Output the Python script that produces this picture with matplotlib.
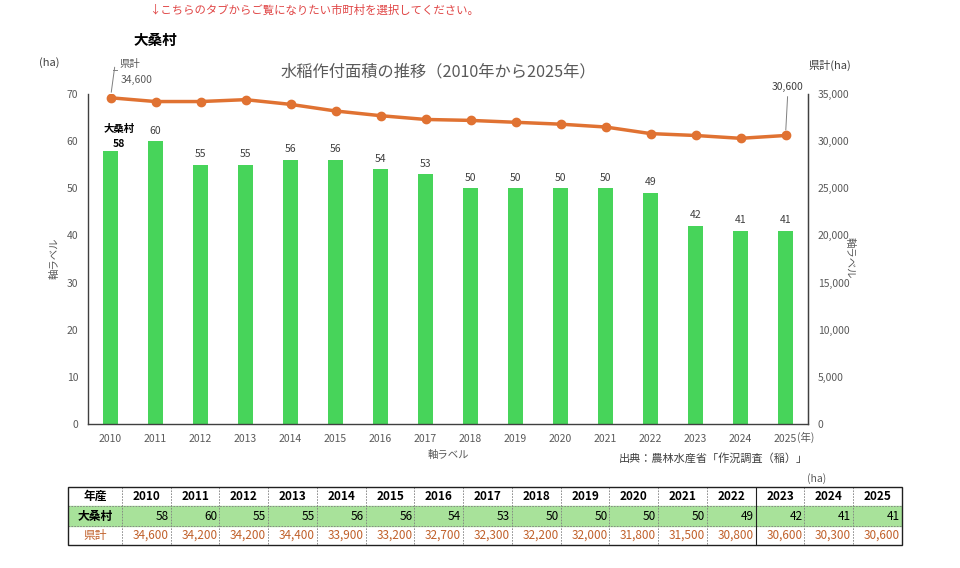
import matplotlib
matplotlib.use("Agg")
import matplotlib.pyplot as plt
from matplotlib.lines import Line2D
from matplotlib.patches import Rectangle
from matplotlib.ticker import FuncFormatter, MultipleLocator

plt.rcParams['font.family'] = ['Noto Sans CJK JP', 'DejaVu Sans']

years = [2010, 2011, 2012, 2013, 2014, 2015, 2016, 2017,
         2018, 2019, 2020, 2021, 2022, 2023, 2024, 2025]
village = [58, 60, 55, 55, 56, 56, 54, 53, 50, 50, 50, 50, 49, 42, 41, 41]
county = [34600, 34200, 34200, 34400, 33900, 33200, 32700, 32300,
          32200, 32000, 31800, 31500, 30800, 30600, 30300, 30600]
village_name = "大桑村"
county_name = "県計"

W, H = 960, 568
fig = plt.figure(figsize=(W / 100, H / 100), dpi=100)


def fx(x):
    return x / W


def fy(y):
    return 1 - y / H


GRAY = "#595959"
BAR = "#47D45A"
LINE = "#E07232"

# ---------------- main chart ----------------
ax = fig.add_axes([fx(88), fy(424), fx(808) - fx(88), fy(94) - fy(424)])
x = list(range(len(years)))
ax.bar(x, village, width=0.33, color=BAR, zorder=2)
ax.set_xlim(-0.5, len(years) - 0.5)
ax.set_ylim(0, 70)
ax.yaxis.set_major_locator(MultipleLocator(10))
ax.set_xticks(x)
ax.set_xticklabels([str(y) for y in years])
ax.tick_params(length=0, labelsize=7.5, labelcolor=GRAY, pad=7)
ax.tick_params(axis='y', pad=7)
ax.spines['top'].set_visible(False)
for s in ['left', 'bottom', 'right']:
    ax.spines[s].set_color("#404040")
    ax.spines[s].set_linewidth(1.0)

for i, v in enumerate(village):
    if i == 0:
        ax.annotate(str(v), (i, v), xytext=(6, 1), textcoords='offset points',
                    ha='center', va='bottom', fontsize=7.5, fontweight='bold',
                    color='black')
        ax.annotate(village_name, (i, v), xytext=(6, 12), textcoords='offset points',
                    ha='center', va='bottom', fontsize=7.5, fontweight='bold',
                    color='black')
    else:
        ax.annotate(str(v), (i, v), xytext=(0, 4), textcoords='offset points',
                    ha='center', va='bottom', fontsize=7.5, color="#404040")

ax2 = ax.twinx()
ax2.set_ylim(0, 35000)
ax2.yaxis.set_major_locator(MultipleLocator(5000))
ax2.yaxis.set_major_formatter(FuncFormatter(lambda v, p: f"{int(v):,}"))
ax2.tick_params(length=0, labelsize=7.5, labelcolor=GRAY, pad=7)
for s in ['top', 'left', 'bottom']:
    ax2.spines[s].set_visible(False)
ax2.spines['right'].set_color("#404040")
ax2.plot(x, county, color=LINE, lw=2.5, marker='o', ms=6, zorder=3)

# annotations for first / last points
ax2.annotate("", xy=(0, county[0]), xytext=(3, 22), textcoords='offset points',
             arrowprops=dict(arrowstyle='-', color='#7f7f7f', lw=0.7,
                             shrinkA=0, shrinkB=4))
fig.add_artist(Line2D([fx(113), fx(117)], [fy(69.5), fy(69.5)], color='#7f7f7f', lw=0.7))
fig.text(fx(130), fy(64), county_name, fontsize=7.5, color=GRAY, ha='center', va='center')
fig.text(fx(137), fy(80), f"{county[0]:,}", fontsize=7.5, color=GRAY, ha='center', va='center')

ax2.annotate("", xy=(len(years) - 1, county[-1]), xytext=(1.5, 28), textcoords='offset points',
             arrowprops=dict(arrowstyle='-', color='#7f7f7f', lw=0.7,
                             shrinkA=0, shrinkB=4))
fig.text(fx(788), fy(87), f"{county[-1]:,}", fontsize=7.5, color="#404040",
         ha='center', va='center')

# texts
fig.text(fx(314), fy(10), "↓こちらのタブからご覧になりたい市町村を選択してください。",
         fontsize=8.2, color="#E04545", ha='center', va='center',
         family=['Noto Sans CJK JP', 'DejaVu Sans'])
fig.text(fx(155), fy(40), village_name, fontsize=10.5, fontweight='bold',
         ha='center', va='center')
fig.text(fx(49), fy(63), "(ha)", fontsize=8, color="#404040", ha='center', va='center')
fig.text(fx(438), fy(72), "水稲作付面積の推移（2010年から2025年）", fontsize=11.7,
         color=GRAY, ha='center', va='center')
fig.text(fx(830), fy(65), "県計(ha)", fontsize=8, color="#404040", ha='center', va='center')
fig.text(fx(55), fy(258), "軸ラベル", fontsize=7.5, color=GRAY, rotation=90,
         ha='center', va='center')
fig.text(fx(850), fy(258), "軸ラベル", fontsize=7.5, color=GRAY, rotation=270,
         ha='center', va='center')
fig.text(fx(448), fy(455), "軸ラベル", fontsize=7.5, color=GRAY, ha='center', va='center')
fig.text(fx(806), fy(437), "(年)", fontsize=7.5, color=GRAY, ha='center', va='center')
fig.text(fx(808), fy(458), "出典：農林水産省「作況調査（稲）」", fontsize=8,
         color="#404040", ha='right', va='center')
fig.text(fx(817), fy(479), "(ha)", fontsize=7.5, color=GRAY, ha='center', va='center')

# ---------------- data table ----------------
tx0, tx1, ty0, ty1 = 68, 902, 487, 545
axt = fig.add_axes([fx(tx0), fy(ty1), fx(tx1) - fx(tx0), fy(ty0) - fy(ty1)])
axt.set_xlim(tx0, tx1)
axt.set_ylim(ty1, ty0)
axt.axis('off')
label_w = 54
ncol = len(years)
cw = (tx1 - tx0 - label_w) / ncol
row_h = (ty1 - ty0) / 3
rows_y = [ty0 + row_h * k for k in range(4)]

axt.add_patch(Rectangle((tx0, rows_y[1]), tx1 - tx0, row_h, color="#A8E29A", zorder=0))

for k in (1, 2):
    axt.plot([tx0, tx1], [rows_y[k], rows_y[k]], color="#7f7f7f", lw=0.6,
             ls=(0, (2, 1.5)), zorder=1)
col_edges = [tx0 + label_w + cw * j for j in range(ncol)]
for j, xe in enumerate(col_edges):
    if years[j] == 2023:
        axt.plot([xe, xe], [ty0, ty1], color="#202020", lw=0.8, zorder=1)
    else:
        axt.plot([xe, xe], [ty0, ty1], color="#7f7f7f", lw=0.6, ls=(0, (2, 1.5)), zorder=1)
axt.add_patch(Rectangle((tx0, ty0), tx1 - tx0, ty1 - ty0, fill=False,
                        edgecolor="#202020", lw=1.0, zorder=2, clip_on=False))

TF = 8.5
ORANGE = "#C0602A"
mid = [(rows_y[k] + rows_y[k + 1]) / 2 for k in range(3)]
axt.text(tx0 + label_w / 2, mid[0], "年産", fontsize=TF, fontweight='bold',
         ha='center', va='center')
axt.text(tx0 + label_w / 2, mid[1], village_name, fontsize=TF, fontweight='bold',
         ha='center', va='center')
axt.text(tx0 + label_w / 2, mid[2], county_name, fontsize=TF, color=ORANGE,
         ha='center', va='center')
for j in range(ncol):
    xl = col_edges[j]
    axt.text(xl + cw / 2, mid[0], str(years[j]), fontsize=TF, fontweight='bold',
             ha='center', va='center')
    axt.text(xl + cw - 2, mid[1], str(village[j]), fontsize=TF,
             ha='right', va='center')
    axt.text(xl + cw - 2, mid[2], f"{county[j]:,}", fontsize=TF, color=ORANGE,
             ha='right', va='center')

fig.savefig("out.png", dpi=100)
